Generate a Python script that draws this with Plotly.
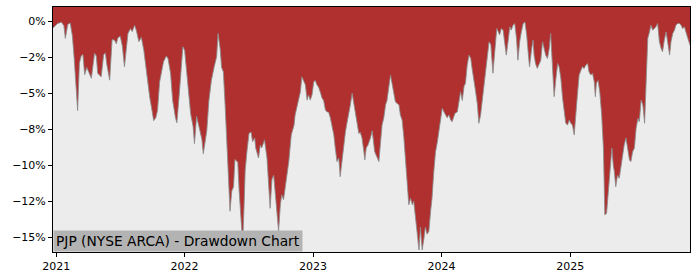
import plotly.graph_objects as go

dates = [
    "2020-12-23", "2021-01-05", "2021-01-16", "2021-01-23", "2021-01-27", "2021-02-03", "2021-02-10",
    "2021-02-16", "2021-02-21", "2021-02-26", "2021-03-03", "2021-03-08", "2021-03-13", "2021-03-18",
    "2021-03-23", "2021-03-29", "2021-04-04", "2021-04-11", "2021-04-20", "2021-04-25", "2021-04-29",
    "2021-05-09", "2021-05-16", "2021-05-21", "2021-05-25", "2021-06-02", "2021-06-09", "2021-06-16",
    "2021-06-21", "2021-06-25", "2021-07-02", "2021-07-08", "2021-07-14", "2021-07-24", "2021-07-31",
    "2021-08-05", "2021-08-12", "2021-08-17", "2021-08-24", "2021-08-31", "2021-09-07", "2021-09-12",
    "2021-09-18", "2021-09-24", "2021-09-29", "2021-10-05", "2021-10-11", "2021-10-16", "2021-10-22",
    "2021-10-28", "2021-11-02", "2021-11-10", "2021-11-15", "2021-11-22", "2021-11-28", "2021-12-06",
    "2021-12-10", "2021-12-16", "2021-12-23", "2021-12-27", "2022-01-01", "2022-01-06", "2022-01-13",
    "2022-01-18", "2022-01-25", "2022-01-29", "2022-02-04", "2022-02-08", "2022-02-13", "2022-02-19",
    "2022-02-23", "2022-02-28", "2022-03-05", "2022-03-11", "2022-03-18", "2022-03-26", "2022-04-02",
    "2022-04-06", "2022-04-12", "2022-04-16", "2022-04-21", "2022-04-26", "2022-05-01", "2022-05-06",
    "2022-05-10", "2022-05-15", "2022-05-20", "2022-05-24", "2022-06-01", "2022-06-05", "2022-06-11",
    "2022-06-15", "2022-06-19", "2022-06-22", "2022-06-27", "2022-07-03", "2022-07-09", "2022-07-13",
    "2022-07-19", "2022-07-22", "2022-07-30", "2022-08-04", "2022-08-08", "2022-08-16", "2022-08-23",
    "2022-08-28", "2022-09-01", "2022-09-06", "2022-09-11", "2022-09-15", "2022-09-20", "2022-09-25",
    "2022-09-30", "2022-10-04", "2022-10-09", "2022-10-14", "2022-10-19", "2022-10-24", "2022-10-31",
    "2022-11-08", "2022-11-11", "2022-11-21", "2022-11-26", "2022-11-30", "2022-12-05", "2022-12-10",
    "2022-12-15", "2022-12-19", "2022-12-24", "2022-12-29", "2023-01-03", "2023-01-07", "2023-01-12",
    "2023-01-17", "2023-01-22", "2023-01-26", "2023-01-31", "2023-02-05", "2023-02-10", "2023-02-14",
    "2023-02-19", "2023-02-24", "2023-03-01", "2023-03-05", "2023-03-10", "2023-03-15", "2023-03-19",
    "2023-03-24", "2023-03-29", "2023-04-03", "2023-04-07", "2023-04-12", "2023-04-17", "2023-04-22",
    "2023-04-27", "2023-05-01", "2023-05-06", "2023-05-11", "2023-05-15", "2023-05-20", "2023-05-25",
    "2023-05-28", "2023-06-01", "2023-06-06", "2023-06-13", "2023-06-18", "2023-06-25", "2023-07-02",
    "2023-07-07", "2023-07-11", "2023-07-16", "2023-07-21", "2023-07-26", "2023-07-30", "2023-08-04",
    "2023-08-09", "2023-08-14", "2023-08-18", "2023-08-23", "2023-08-28", "2023-09-02", "2023-09-06",
    "2023-09-11", "2023-09-16", "2023-09-21", "2023-09-25", "2023-09-30", "2023-10-05", "2023-10-10",
    "2023-10-14", "2023-10-19", "2023-10-24", "2023-10-29", "2023-11-02", "2023-11-07", "2023-11-12",
    "2023-11-16", "2023-11-21", "2023-11-26", "2023-12-01", "2023-12-05", "2023-12-10", "2023-12-15",
    "2023-12-20", "2023-12-24", "2023-12-29", "2024-01-03", "2024-01-08", "2024-01-12", "2024-01-17",
    "2024-01-22", "2024-01-27", "2024-01-31", "2024-02-08", "2024-02-15", "2024-02-20", "2024-02-24",
    "2024-02-29", "2024-03-05", "2024-03-09", "2024-03-14", "2024-03-19", "2024-03-24", "2024-03-28",
    "2024-04-02", "2024-04-07", "2024-04-12", "2024-04-16", "2024-04-21", "2024-04-26", "2024-05-01",
    "2024-05-05", "2024-05-10", "2024-05-15", "2024-05-20", "2024-05-26", "2024-06-01", "2024-06-06",
    "2024-06-10", "2024-06-14", "2024-06-19", "2024-06-24", "2024-06-28", "2024-07-03", "2024-07-08",
    "2024-07-13", "2024-07-17", "2024-07-22", "2024-07-27", "2024-08-01", "2024-08-05", "2024-08-10",
    "2024-08-15", "2024-08-20", "2024-08-25", "2024-08-30", "2024-09-03", "2024-09-07", "2024-09-13",
    "2024-09-17", "2024-09-20", "2024-09-24", "2024-09-29", "2024-10-04", "2024-10-09", "2024-10-14",
    "2024-10-18", "2024-10-23", "2024-10-28", "2024-11-02", "2024-11-06", "2024-11-11", "2024-11-16",
    "2024-11-21", "2024-11-26", "2024-11-30", "2024-12-05", "2024-12-10", "2024-12-14", "2024-12-19",
    "2024-12-24", "2024-12-29", "2025-01-02", "2025-01-07", "2025-01-12", "2025-01-16", "2025-01-21",
    "2025-01-26", "2025-01-31", "2025-02-04", "2025-02-09", "2025-02-14", "2025-02-19", "2025-02-23",
    "2025-02-28", "2025-03-05", "2025-03-10", "2025-03-13", "2025-03-16", "2025-03-21", "2025-03-26",
    "2025-03-31", "2025-04-05", "2025-04-09", "2025-04-14", "2025-04-19", "2025-04-24", "2025-04-29",
    "2025-05-03", "2025-05-06", "2025-05-10", "2025-05-15", "2025-05-20", "2025-05-25", "2025-05-29",
    "2025-06-03", "2025-06-08", "2025-06-13", "2025-06-18", "2025-06-22", "2025-06-27", "2025-07-02",
    "2025-07-07", "2025-07-12", "2025-07-16", "2025-07-21", "2025-07-26", "2025-07-31", "2025-08-04",
    "2025-08-09", "2025-08-14", "2025-08-18", "2025-08-23", "2025-08-28", "2025-09-01", "2025-09-06",
    "2025-09-11", "2025-09-16", "2025-09-20", "2025-09-25", "2025-09-30", "2025-10-05", "2025-10-10",
    "2025-10-14", "2025-10-19", "2025-10-24", "2025-10-28", "2025-11-02", "2025-11-07", "2025-11-12",
    "2025-11-16", "2025-11-21", "2025-11-26", "2025-12-01", "2025-12-07",
]

drawdown_pct = [
    -0.45, -0.14, -0.05, -0.30, -1.18, -0.20, -0.10,
    -1.00, -2.50, -4.80, -6.20, -2.90, -2.40, -2.30,
    -3.70, -3.20, -3.50, -3.95, -2.20, -2.40, -3.60,
    -3.85, -2.30, -2.20, -3.00, -4.08, -1.25, -1.30,
    -1.55, -1.15, -1.02, -1.70, -3.15, -0.83, -0.50,
    -0.70, -0.26, -0.65, -1.40, -1.10, -2.00, -3.00,
    -4.40, -5.30, -6.00, -6.90, -6.70, -6.20, -4.20,
    -3.30, -2.80, -2.40, -2.60, -3.60, -5.50, -6.70,
    -7.05, -5.30, -3.15, -1.76, -2.00, -3.15, -4.80,
    -6.40, -7.30, -8.50, -6.60, -7.00, -7.50, -8.20,
    -9.20, -8.20, -7.60, -5.50, -4.10, -3.15, -2.45,
    -0.83, -1.90, -3.20, -3.50, -5.80, -8.60, -11.10,
    -13.20, -11.80, -11.50, -9.60, -9.80, -11.80, -13.90,
    -15.50, -12.75, -10.40, -9.06, -7.78, -7.70, -8.36,
    -8.10, -8.80, -9.50, -8.60, -8.80, -8.24, -9.50,
    -11.60, -13.00, -11.00, -10.70, -11.80, -13.45, -14.60,
    -12.75, -12.06, -12.40, -11.40, -10.70, -9.75, -7.90,
    -7.20, -6.50, -5.35, -4.89, -3.85, -4.20, -4.40,
    -5.47, -5.10, -5.47, -5.10, -4.20, -4.10, -4.40,
    -4.60, -4.95, -5.30, -5.50, -6.16, -6.30, -6.30,
    -6.70, -7.30, -7.90, -8.80, -9.75, -9.50, -10.80,
    -9.75, -8.60, -7.67, -7.10, -6.50, -5.80, -5.00,
    -5.80, -6.30, -7.20, -7.80, -7.70, -8.10, -9.00,
    -9.63, -8.80, -8.60, -8.10, -7.60, -9.06, -9.50,
    -9.75, -8.60, -7.20, -6.70, -5.80, -5.50, -4.40,
    -3.73, -4.40, -5.10, -5.60, -5.70, -5.80, -6.50,
    -6.85, -8.10, -9.75, -10.70, -12.75, -12.30, -12.75,
    -12.50, -13.70, -15.07, -15.90, -14.30, -15.90, -15.10,
    -14.30, -14.80, -14.60, -13.20, -12.30, -10.45, -9.06,
    -8.40, -7.67, -6.80, -6.04, -6.30, -6.50, -6.70,
    -6.50, -6.85, -6.97, -6.40, -6.28, -5.50, -4.89,
    -5.50, -4.50, -4.30, -3.03, -2.34, -2.57, -3.30,
    -4.00, -4.90, -5.80, -7.08, -6.50, -5.35, -4.30,
    -3.50, -2.60, -1.41, -1.60, -3.60, -1.90, -0.49,
    -0.70, -0.93, -0.49, -0.60, -1.40, -2.34, -1.40,
    -0.37, -0.60, -0.26, -0.14, -1.18, -2.69, -1.40,
    -0.70, -0.14, -0.03, -0.95, -2.10, -3.15, -1.90,
    -1.30, -2.34, -2.92, -3.26, -2.92, -2.70, -1.41,
    -1.76, -2.34, -2.57, -1.88, -0.83, -3.50, -5.23,
    -3.96, -2.92, -3.15, -3.96, -5.35, -6.28, -7.08,
    -7.20, -6.85, -7.08, -7.20, -7.90, -6.28, -5.12,
    -3.73, -3.38, -3.15, -3.27, -3.03, -2.92, -3.50,
    -3.73, -3.60, -4.20, -5.23, -4.30, -4.10, -5.00,
    -6.50, -8.80, -13.45, -13.35, -11.90, -10.70, -8.80,
    -10.00, -10.45, -11.50, -10.70, -10.90, -10.00, -9.30,
    -8.60, -8.10, -9.06, -9.63, -9.75, -9.06, -8.80,
    -7.43, -6.74, -6.97, -5.47, -5.80, -7.08, -4.40,
    -1.18, -0.72, -0.26, -0.60, -0.50, -0.37, -0.14,
    -1.40, -1.88, -2.10, -1.30, -0.72, -1.50, -2.34,
    -1.40, -0.83, -0.60, -0.26, -0.14, -0.14, -0.26,
    -0.50, -0.37, -0.72, -1.18, -1.65,
]

y_tick_values = [0, -2.5, -5, -7.5, -10, -12.5, -15]
y_tick_labels = ["0%", "\u22122%", "\u22125%", "\u22128%", "\u221210%", "\u221212%", "\u221215%"]
x_tick_values = ["2021-01-01", "2022-01-01", "2023-01-01", "2024-01-01", "2025-01-01"]
x_tick_labels = ["2021", "2022", "2023", "2024", "2025"]

Y_MIN, Y_MAX = -16.04, 1.01
ceiling = [Y_MAX + 1.0] * len(dates)

fig = go.Figure()
fig.add_trace(go.Scatter(x=dates, y=ceiling, mode="lines", line=dict(width=0, color="rgba(0,0,0,0)"),
                         hoverinfo="skip", showlegend=False))
fig.add_trace(go.Scatter(x=dates, y=drawdown_pct, mode="lines", fill="tonexty",
                         fillcolor="#b03030", line=dict(color="rgba(140,140,140,0.85)", width=1),
                         showlegend=False))

axis_common = dict(showline=True, linecolor="black", linewidth=1, mirror=True, ticks="outside",
                   ticklen=4, tickcolor="black", showgrid=False, zeroline=False,
                   tickfont=dict(family="DejaVu Sans", size=11, color="black"))

fig.update_layout(
    width=700, height=280,
    margin=dict(l=53, r=10, t=7, b=28),
    paper_bgcolor="white", plot_bgcolor="#ececec",
    xaxis=dict(range=["2020-12-23", "2025-12-07"], tickvals=x_tick_values, ticktext=x_tick_labels, **axis_common),
    yaxis=dict(range=[Y_MIN, Y_MAX], tickvals=y_tick_values, ticktext=y_tick_labels, **axis_common),
    annotations=[dict(text="PJP (NYSE ARCA) - Drawdown Chart", xref="paper", yref="paper", x=0, y=0,
                      xanchor="left", yanchor="bottom", showarrow=False, bgcolor="#b3b3b3",
                      borderpad=2, font=dict(family="DejaVu Sans", size=13.8, color="black"))],
)

fig.write_html("out.html")
